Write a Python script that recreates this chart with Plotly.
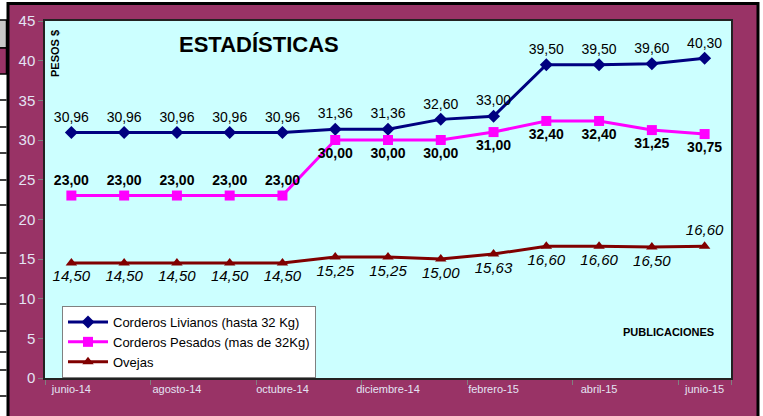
import plotly.graph_objects as go

# ---- data ----
meses = ["junio-14", "julio-14", "agosto-14", "septiembre-14", "octubre-14",
         "noviembre-14", "diciembre-14", "enero-15", "febrero-15", "marzo-15",
         "abril-15", "mayo-15", "junio-15"]
livianos = [30.96, 30.96, 30.96, 30.96, 30.96, 31.36, 31.36, 32.60, 33.00, 39.50, 39.50, 39.60, 40.30]
pesados = [23.00, 23.00, 23.00, 23.00, 23.00, 30.00, 30.00, 30.00, 31.00, 32.40, 32.40, 31.25, 30.75]
ovejas = [14.50, 14.50, 14.50, 14.50, 14.50, 15.25, 15.25, 15.00, 15.63, 16.60, 16.60, 16.50, 16.60]
tick_labels = meses[::2]

W, H = 763, 416
L, R, T, B = 45, 731, 21, 378  # plot area in pixels


def fx(px):
    return (px - L) / (R - L)


def fy(py):
    return (B - py) / (B - T)


def fmt(vals):
    return [f"{v:.2f}".replace(".", ",") for v in vals]


FONT = "Arial, Liberation Sans, sans-serif"
MAROON = "#993366"
CYAN = "#CCFFFF"
TICKCOL = "#E4E4F4"

fig = go.Figure()

fig.add_trace(go.Scatter(
    x=meses, y=livianos, name="Corderos Livianos (hasta 32 Kg)",
    mode="lines+markers+text", text=fmt(livianos), textposition="top center",
    textfont=dict(family=FONT, size=14, color="black"),
    line=dict(color="#000080", width=3),
    marker=dict(symbol="diamond", size=10, color="#000080"),
    cliponaxis=False,
))
fig.add_trace(go.Scatter(
    x=meses, y=pesados, name="Corderos Pesados (mas de 32Kg)",
    mode="lines+markers+text", text=fmt(pesados),
    textposition=["top center"] * 5 + ["bottom center"] * 8,
    textfont=dict(family=FONT, size=14, color="black", weight="bold"),
    line=dict(color="#FF00FF", width=3),
    marker=dict(symbol="square", size=10, color="#FF00FF"),
    cliponaxis=False,
))
fig.add_trace(go.Scatter(
    x=meses, y=ovejas, name="Ovejas",
    mode="lines+markers+text", text=fmt(ovejas),
    textposition=["bottom center"] * 12 + ["top center"],
    textfont=dict(family=FONT, size=15, color="black", style="italic"),
    line=dict(color="#800000", width=3),
    marker=dict(symbol="triangle-up", size=10, color="#800000"),
    cliponaxis=False,
))

shapes = [
    # outer maroon frame with black border
    dict(type="rect", xref="paper", yref="paper", layer="below",
         x0=fx(8), x1=fx(758), y0=fy(3.5), y1=fy(430),
         fillcolor=MAROON, line=dict(color="black", width=3)),
    # plot area background
    dict(type="rect", xref="paper", yref="paper", layer="below",
         x0=0, x1=1, y0=0, y1=1, fillcolor=CYAN, line=dict(width=0)),
    # spreadsheet cells visible on the left edge
    dict(type="rect", xref="paper", yref="paper", layer="below",
         x0=fx(-2), x1=fx(6.5), y0=fy(48), y1=fy(20),
         fillcolor="#C8C8C8", line=dict(color="black", width=1.5)),
    dict(type="rect", xref="paper", yref="paper", layer="below",
         x0=fx(-2), x1=fx(6.5), y0=fy(74), y1=fy(48),
         fillcolor=MAROON, line=dict(color="black", width=1.5)),
]
for yy in [100, 127, 153, 180, 205, 253, 278, 304, 331, 352, 370, 396]:
    shapes.append(dict(type="line", xref="paper", yref="paper", layer="below",
                       x0=fx(-2), x1=fx(6.5), y0=fy(yy), y1=fy(yy),
                       line=dict(color="black", width=1.5)))

fig.update_layout(
    width=W, height=H,
    margin=dict(l=L, r=W - R, t=T, b=H - B, pad=0, autoexpand=False),
    paper_bgcolor="white", plot_bgcolor=CYAN,
    font=dict(family=FONT, color="black"),
    shapes=shapes,
    showlegend=True,
    legend=dict(x=fx(62), y=fy(306), xanchor="left", yanchor="top",
                bgcolor="white", bordercolor="#808080", borderwidth=1,
                font=dict(family=FONT, size=13, color="black"),
                tracegroupgap=0, itemwidth=40),
    xaxis=dict(type="category", range=[-0.5, 12.5], tickmode="array",
               tickvals=tick_labels, ticktext=tick_labels, tickson="boundaries",
               ticks="outside", ticklen=5, tickcolor="#808080", tickangle=0,
               automargin=False,
               tickfont=dict(family=FONT, size=11, color=TICKCOL),
               showline=True, linecolor="#222222", linewidth=1.5, mirror=True,
               showgrid=False, zeroline=False),
    yaxis=dict(range=[0, 45], dtick=5, ticks="outside", ticklen=5,
               tickcolor="#808080", automargin=False,
               tickfont=dict(family=FONT, size=15, color=TICKCOL),
               showline=True, linecolor="#222222", linewidth=1.5, mirror=True,
               showgrid=False, zeroline=False),
    annotations=[
        dict(text="<b>ESTADÍSTICAS</b>", xref="paper", yref="paper",
             x=fx(259), y=fy(45), showarrow=False,
             xanchor="center", yanchor="middle",
             font=dict(family=FONT, size=22, color="black")),
        dict(text="<b>PESOS $</b>", xref="paper", yref="paper",
             x=fx(55), y=fy(54), showarrow=False, textangle=-90,
             xanchor="center", yanchor="middle",
             font=dict(family=FONT, size=11, color="black")),
        dict(text="<b>PUBLICACIONES</b>", xref="paper", yref="paper",
             x=fx(668), y=fy(332), showarrow=False,
             xanchor="center", yanchor="middle",
             font=dict(family=FONT, size=11, color="black")),
    ],
)

fig.write_html("out.html", config={"displayModeBar": False},
               post_script="document.body.style.margin='0';")
